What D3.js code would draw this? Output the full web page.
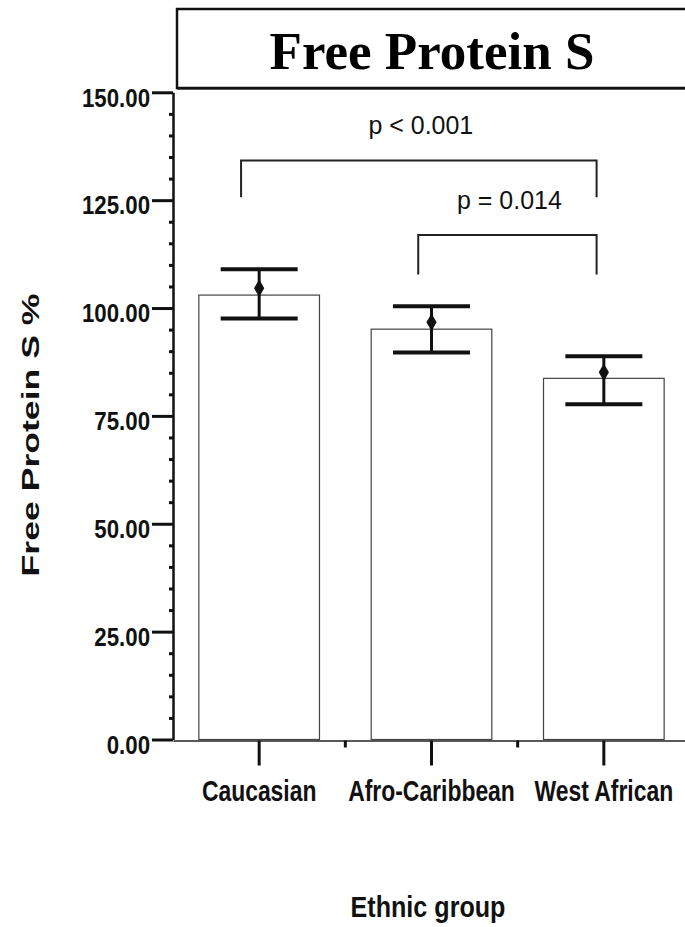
<!DOCTYPE html>
<html>
<head>
<meta charset="utf-8">
<script src="https://cdn.jsdelivr.net/npm/d3@7"></script>
<style>
  body { margin: 0; background: #fff; }
  svg { display: block; }
</style>
</head>
<body>
<svg id="drawing_region"></svg>
<script>
// values
const categories = ['Caucasian', 'Afro-Caribbean', 'West African'];
const barValues = [103.0, 95.1, 83.7];
const meanValues = [104.6, 96.7, 85.1];
const ciLower = [97.6, 89.7, 77.7];
const ciUpper = [109.0, 100.4, 88.8];
const yTicks = [0, 25, 50, 75, 100, 125, 150];
const comparisons = [
  {from: 'Caucasian', to: 'West African', top: 134.2, bottom: 125.7, label: 'p < 0.001'},
  {from: 'Afro-Caribbean', to: 'West African', top: 116.9, bottom: 107.8, label: 'p = 0.014'}
];

const width = 685, height = 927;
const plotLeft = 173, plotRight = 690, plotTop = 92.3, plotBottom = 739.5;

const svg = d3.select('#drawing_region')
  .attr('width', width)
  .attr('height', height);

svg.append('rect').attr('width', width).attr('height', height).attr('fill', '#fff');

const x = d3.scaleBand()
  .domain(categories)
  .range([plotLeft, plotRight])
  .paddingInner(0.3)
  .paddingOuter(0.15);

const y = d3.scaleLinear()
  .domain([0, 150])
  .range([plotBottom, plotTop]);

// squeeze text horizontally (in its own frame) by factor k,
// or to a fixed width when k is given as {width: w}
function condense(sel, k) {
  sel.each(function() {
    const t = d3.select(this);
    const f = typeof k === 'number' ? k : k.width / this.getComputedTextLength();
    const x0 = +(t.attr('x') || 0);
    const tr = t.attr('transform') || '';
    t.attr('x', x0 / f).attr('transform', `${tr} scale(${f},1)`);
  });
}

// title box
svg.append('rect')
  .attr('x', 177).attr('y', 9)
  .attr('width', 530).attr('height', 79)
  .attr('fill', '#fff')
  .attr('stroke', '#111')
  .attr('stroke-width', 2.5);
svg.append('line')
  .attr('x1', 177).attr('x2', width)
  .attr('y1', 89.5).attr('y2', 89.5)
  .attr('stroke', '#555').attr('stroke-width', 1.2);
svg.append('text')
  .attr('x', 432).attr('y', 69)
  .attr('text-anchor', 'middle')
  .style('font-family', '"Liberation Serif", "Times New Roman", serif')
  .style('font-weight', 'bold')
  .style('font-size', '53px')
  .attr('fill', '#000')
  .text('Free Protein S');

// bars
svg.selectAll('rect.bar').data(categories).enter()
  .append('rect')
  .attr('class', 'bar')
  .attr('x', d => x(d))
  .attr('y', (d, i) => y(barValues[i]))
  .attr('width', x.bandwidth())
  .attr('height', (d, i) => y(0) - y(barValues[i]))
  .attr('fill', '#fff')
  .attr('stroke', '#444')
  .attr('stroke-width', 1.2);

// error bars
const capHalf = 38.5;
const eb = svg.append('g').attr('class', 'errorbars');
categories.forEach((c, i) => {
  const cx = x(c) + x.bandwidth() / 2;
  eb.append('line')
    .attr('x1', cx).attr('x2', cx)
    .attr('y1', y(ciUpper[i])).attr('y2', y(ciLower[i]))
    .attr('stroke', '#111').attr('stroke-width', 3);
  [ciUpper[i], ciLower[i]].forEach(v => {
    eb.append('line')
      .attr('x1', cx - capHalf).attr('x2', cx + capHalf)
      .attr('y1', y(v)).attr('y2', y(v))
      .attr('stroke', '#111').attr('stroke-width', 4);
  });
  eb.append('path')
    .attr('d', d3.symbol(d3.symbolDiamond, 90)())
    .attr('transform', `translate(${cx},${y(meanValues[i])})`)
    .attr('fill', '#111');
});

// significance brackets
const bracketInset = {'Caucasian': 0.35, 'Afro-Caribbean': 0.39, 'West African': 0.44};
const br = svg.append('g').attr('class', 'brackets');
comparisons.forEach(cmp => {
  const x1 = x(cmp.from) + bracketInset[cmp.from] * x.bandwidth();
  const x2 = x(cmp.to) + bracketInset[cmp.to] * x.bandwidth();
  br.append('path')
    .attr('d', `M${x1},${y(cmp.bottom)}V${y(cmp.top)}H${x2}V${y(cmp.bottom)}`)
    .attr('fill', 'none')
    .attr('stroke', '#222')
    .attr('stroke-width', 2);
  br.append('text')
    .attr('x', (x1 + x2) / 2 + 2)
    .attr('y', y(cmp.top) - 26)
    .attr('text-anchor', 'middle')
    .style('font-family', '"Liberation Sans", Arial, sans-serif')
    .style('font-size', '26px')
    .attr('fill', '#111')
    .text(cmp.label)
    .call(condense, 0.96);
});

// y axis
const yaxis = d3.axisLeft(y)
  .tickValues(yTicks)
  .tickFormat(d3.format('.2f'))
  .tickSize(21)
  .tickSizeOuter(0)
  .tickPadding(2);

const yaxis_group = svg.append('g')
  .attr('transform', `translate(${plotLeft},0)`)
  .call(yaxis);
yaxis_group.select('.domain').attr('stroke', '#111').attr('stroke-width', 2.5);
yaxis_group.selectAll('.tick line').attr('stroke', '#111').attr('stroke-width', 3);
yaxis_group.selectAll('.tick text')
  .attr('dy', '0.55em')
  .attr('fill', '#111')
  .style('font-family', '"Liberation Sans", Arial, sans-serif')
  .style('font-weight', 'bold')
  .style('font-size', '25px')
  .call(condense, 0.89);

// minor y ticks every 5 units
const minorY = d3.range(0, 151, 5).filter(v => !yTicks.includes(v));
const yminor = svg.append('g')
  .attr('transform', `translate(${plotLeft},0)`)
  .call(d3.axisLeft(y).tickValues(minorY).tickSize(4).tickFormat(''));
yminor.select('.domain').remove();
yminor.selectAll('.tick line').attr('stroke', '#111').attr('stroke-width', 3);

// x axis
const xaxis = d3.axisBottom(x)
  .tickSize(25)
  .tickSizeOuter(0);

const xaxis_group = svg.append('g')
  .attr('transform', `translate(0,${plotBottom + 1})`)
  .call(xaxis);
xaxis_group.select('.domain').attr('stroke', '#222').attr('stroke-width', 1.5);
xaxis_group.selectAll('.tick line').attr('stroke', '#111').attr('stroke-width', 3);
xaxis_group.selectAll('.tick text')
  .attr('y', 40)
  .attr('dy', '0.71em')
  .attr('fill', '#111')
  .style('font-family', '"Liberation Sans", Arial, sans-serif')
  .style('font-weight', 'bold')
  .style('font-size', '29px')
  .call(condense, 0.79);

// short ticks between categories
xaxis_group.selectAll('line.between')
  .data(categories.slice(1))
  .enter()
  .append('line')
  .attr('class', 'between')
  .attr('x1', d => x(d) - x.step() * x.paddingInner() / 2)
  .attr('x2', d => x(d) - x.step() * x.paddingInner() / 2)
  .attr('y1', 0).attr('y2', 7)
  .attr('stroke', '#111').attr('stroke-width', 3);

// axis titles
svg.append('text')
  .attr('transform', 'translate(38.5,435) rotate(-90)')
  .attr('text-anchor', 'middle')
  .style('font-family', '"Liberation Sans", Arial, sans-serif')
  .style('font-weight', 'bold')
  .style('font-size', '23px')
  .attr('fill', '#111')
  .text('Free Protein S %')
  .call(condense, {width: 283});

svg.append('text')
  .attr('transform', 'translate(428,917)')
  .attr('text-anchor', 'middle')
  .style('font-family', '"Liberation Sans", Arial, sans-serif')
  .style('font-weight', 'bold')
  .style('font-size', '30px')
  .attr('fill', '#111')
  .text('Ethnic group')
  .call(condense, {width: 155});
</script>
</body>
</html>
